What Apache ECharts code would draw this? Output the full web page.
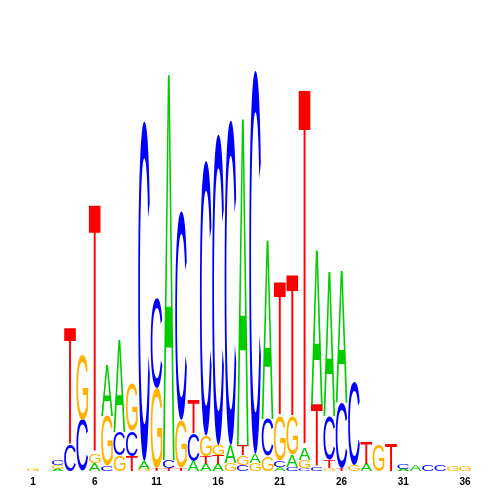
<!DOCTYPE html>
<html><head><meta charset="utf-8">
<script src="https://cdn.jsdelivr.net/npm/echarts@6/dist/echarts.min.js"></script>
<style>html,body{margin:0;padding:0;background:#fff}#c{width:500px;height:500px}</style>
</head><body><div id="c"></div>
<script>
// Sequence positions and tick labels
const positions = Array.from({length: 36}, (_, k) => String(k + 1));
const tickLabels = ['1', '6', '11', '16', '21', '26', '31', '36'];

// Letter heights (bits) per position
const bitsA = [0, 0, 0.01, 0, 0, 0.04, 0.255, 0.46, 0, 0.04,
               0, 1.93, 0, 0.05, 0.035, 0.035, 0.09, 1.635, 0.045, 0.895,
               0.02, 0.06, 0.06, 0.775, 0.725, 0.66, 0, 0.035, 0, 0,
               0.01, 0.03, 0, 0, 0, 0];
const bitsC = [0, 0, 0.025, 0.13, 0.255, 0, 0.025, 0.115, 0.125, 1.70,
               0.445, 0.04, 1.045, 0.14, 1.375, 1.555, 1.625, 0.03, 1.92, 0.185,
               0.03, 0.02, 0.015, 0.02, 0.22, 0.325, 0.415, 0, 0, 0,
               0.025, 0, 0.03, 0.035, 0, 0];
const bitsG = [0.01, 0, 0.02, 0, 0.325, 0.045, 0.25, 0.08, 0.24, 0.01,
               0.40, 0, 0.24, 0, 0.105, 0.05, 0.04, 0.0475, 0.04, 0.075,
               0.225, 0.19, 0.04, 0, 0.015, 0, 0.03, 0, 0.13, 0,
               0, 0, 0, 0, 0.025, 0.025];
const bitsT = [0, 0, 0, 0.585, 0, 1.245, 0, 0, 0.075, 0,
               0.015, 0.015, 0.015, 0.17, 0.0375, 0.045, 0, 0.05, 0, 0,
               0.67, 0.705, 1.79, 0.31, 0.04, 0.015, 0, 0.11, 0, 0.135,
               0, 0, 0, 0, 0, 0];

const letters = ['A', 'C', 'G', 'T'];
const bits = {A: bitsA, C: bitsC, G: bitsG, T: bitsT};
const colors = {A: '#00CC00', C: '#0000FF', G: '#FFB300', T: '#FF0000'};

const FONT = 'normal 100px "Liberation Sans"';
const ctx = document.createElement('canvas').getContext('2d');
ctx.font = FONT; ctx.textAlign = 'center'; ctx.textBaseline = 'middle';
const metrics = {};
letters.forEach(l => {
  const m = ctx.measureText(l);
  metrics[l] = {L: m.actualBoundingBoxLeft, R: m.actualBoundingBoxRight,
                A: m.actualBoundingBoxAscent, D: m.actualBoundingBoxDescent};
});

const chart = echarts.init(document.getElementById('c'), null, {renderer: 'canvas'});
chart.setOption({
  animation: false,
  backgroundColor: '#ffffff',
  grid: {left: 26.8, right: 28.8, top: 71, bottom: 29, containLabel: false},
  xAxis: {
    type: 'category', data: positions,
    axisLine: {show: false}, axisTick: {show: false}, splitLine: {show: false},
    axisLabel: {
      interval: (idx, val) => tickLabels.includes(val),
      margin: 6, color: '#000', fontWeight: 'bold', fontSize: 10,
      fontFamily: '"Liberation Sans", Arial, sans-serif'
    }
  },
  yAxis: {type: 'value', min: 0, max: 2, show: false, splitLine: {show: false}},
  series: [{
    type: 'custom',
    data: positions.map((p, i) => [i]),
    renderItem: function (params, api) {
      const i = api.value(0);
      const order = letters.filter(l => bits[l][i] > 0).sort((a, b) => bits[a][i] - bits[b][i]);
      const bw = api.size([1, 0])[0] * 0.95;
      const cx = api.coord([i, 0])[0];
      let cum = 0;
      const children = [];
      order.forEach(l => {
        const yb = api.coord([i, cum])[1];
        cum += bits[l][i];
        const yt = api.coord([i, cum])[1];
        const h = yb - yt;
        const m = metrics[l];
        const sx = bw / (m.L + m.R);
        const sy = h / (m.A + m.D);
        children.push({
          type: 'text',
          x: cx - bw / 2 + m.L * sx,
          y: yt + m.A * sy,
          scaleX: sx, scaleY: sy,
          style: {text: l, font: FONT, fill: colors[l], align: 'center', verticalAlign: 'middle'}
        });
      });
      return {type: 'group', children: children};
    }
  }]
});
</script>
</body></html>
